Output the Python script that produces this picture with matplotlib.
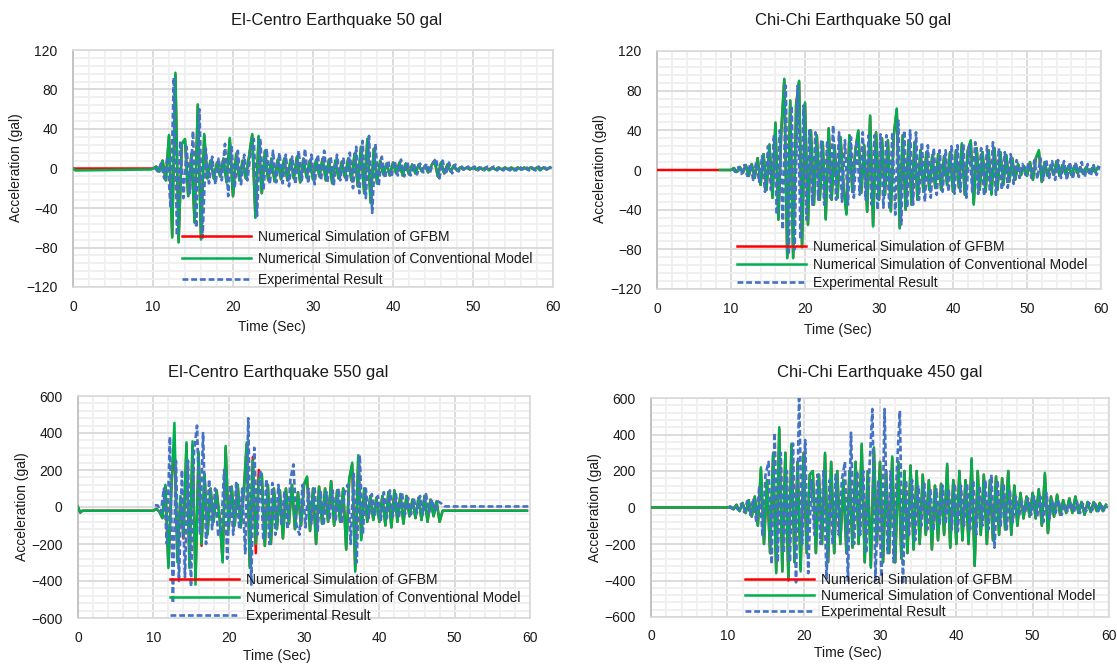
import numpy as np
import matplotlib
matplotlib.use('Agg')
import matplotlib.pyplot as plt
from matplotlib.ticker import MultipleLocator

FONT = 'Liberation Sans'

# ---------------- data (gal), sampled every 0.4 s ----------------
STEP = 0.4
SIM_T0 = 10.0   # numerical traces start of sampled part
EXP_T0 = 10.2   # experimental trace start of sampled part

titles = ["El-Centro Earthquake 50 gal", "Chi-Chi Earthquake 50 gal",
          "El-Centro Earthquake 550 gal", "Chi-Chi Earthquake 450 gal"]
legend_labels = ["Numerical Simulation of GFBM",
                 "Numerical Simulation of Conventional Model",
                 "Experimental Result"]
x_ticks = [0, 10, 20, 30, 40, 50, 60]
y_ticks_small = [-120, -80, -40, 0, 40, 80, 120]
y_ticks_large = [-600, -400, -200, 0, 200, 400, 600]

# --- El-Centro 50 gal ---
ec50_gfbm_pre_t = [0.0, 9.8]
ec50_gfbm_pre_v = [0.0, 0.0]
ec50_conv_pre_t = [0.0, 0.3, 9.8]
ec50_conv_pre_v = [0.0, -2.0, -1.0]
ec50_conv = [0, 2, -3, 8, -12, 34, -70, 97, -75, 25, 30, -28, 15, -55, 65, -72, 35, -10, 8, -10, 6, -8, 10, -14, 31,
             -28, 15, -12, 8, -10, 12, 35, -50, 33, -25, 18, -12, 10, -13, 9, -11, 10, -12, 9, -10, 12, -14, 10, -9, 8,
             -11, 9, -8, 10, -12, 9, -15, 8, -10, 7, -9, 10, -12, 15, -18, 22, -25, 30, -35, 20, -15, 8, -6, 5, -7,
             6, -5, 6, -7, 5, -6, 4, -5, 4, -3, 3, -4, 3, 8, -8, 6, -5, 4, -3, 3, -2, 1, -1, 1, -1,
             1, -1, 1, -1, 1, -2, 1, -1, 1, -1, 1, -1, 1, -2, 1, -1, 1, -1, 1, -1, 1, -2, 1, -1, 1]
ec50_gfbm = [0, 2, -3, 8, -12, 33, -69, 95, -74, 25, 29, -28, 15, -54, 64, -71, 34, -10, 8, -10, 6, -8, 10, -14, 30,
             -28, 15, -12, 8, -10, 12, 34, -49, 32, -25, 18, -12, 10, -13, 9, -11, 10, -12, 9, -10, 12, -14, 10, -9, 8,
             -11, 9, -8, 10, -12, 9, -15, 8, -10, 7, -9, 10, -12, 15, -18, 22, -25, 30, -34, 20, -15, 8, -6, 5, -7,
             6, -5, 6, -7, 5, -6, 4, -5, 4, -3, 3, -4, 3, 8, -8, 6, -5, 4, -3, 3, -2, 1, -1, 1, -1,
             1, -1, 1, -1, 1, -1, 1, -1, 1, -1, 1, -1, 1, -1, 1, -1, 1, -1, 1, -1, 1, -1, 1, -1, 1]
ec50_exp = [1, -3, 5, -10, 12, -40, 92, -68, 28, -30, 22, -25, 38, -60, 60, -70, 20, -15, 12, -16, 10, -12, 25, -28, 22,
            -20, 18, -16, 14, -12, 15, 30, -48, 30, -22, 20, -16, 18, -14, 16, -15, 14, -18, 12, -16, 18, -12, 20, -15, 14,
            -16, 14, -12, 18, -14, 12, -16, 14, -12, 10, -14, 16, -20, 22, -25, 28, -30, 33, -45, 25, -18, 12, -10, 8, -9,
            8, -7, 9, -8, 6, -7, 5, -6, 5, -4, 5, -5, 6, 10, -10, 8, -6, 6, -5, 4, -3, 2, -2, 2, -2,
            2, -2, 1, -2, 2, -1, 2, -2, 1, -2, 2, -2, 1, -2, 2, -1, 2, -2, 1, -2, 2, -2, 1, -2, 2]

# --- Chi-Chi 50 gal ---
cc50_gfbm_pre_t = [0.0, 9.8]
cc50_gfbm_pre_v = [0.0, 0.0]
cc50_conv_pre_t = [8.5, 9.8]
cc50_conv_pre_v = [0.0, 0.0]
cc50_conv = [0, 2, -2, 3, -3, 5, -6, 6, -8, 12, -15, 16, -20, 26, -28, 48, -50, 40, 92, -89, 70, -89, 66, 90, -78,
             68, -55, 40, -35, 35, -30, 28, -50, 42, -30, 25, -28, 33, -15, -45, 35, -22, 20, 40, -23, 25, -42, 55, -57, 38,
             -30, 32, -25, 30, -42, 35, 62, -59, 35, -40, 30, -35, 28, -30, 20, -22, 18, -20, 15, -18, 16, -20, 14, -15, 18,
             -22, 20, -18, 27, -25, 20, 30, -35, 22, -20, 18, -22, 20, -25, 22, -20, 18, -15, 15, -12, 12, -10, 6, -5, 4,
             -6, 8, -10, 12, 20, -12, 8, -6, 5, -5, 9, -6, 5, -4, 4, -5, 4, -3, 3, -4, 3, -3, 2, -2, 3]
cc50_gfbm = [0, 2, -2, 3, -3, 5, -6, 6, -8, 12, -15, 16, -20, 25, -28, 47, -50, 40, 91, -88, 70, -88, 66, 89, -77,
             67, -55, 40, -35, 35, -30, 28, -49, 42, -30, 25, -28, 33, -15, -44, 35, -22, 20, 39, -23, 25, -42, 54, -56, 38,
             -30, 32, -25, 30, -41, 35, 61, -58, 35, -40, 30, -35, 28, -30, 20, -22, 18, -20, 15, -18, 16, -20, 14, -15, 18,
             -22, 20, -18, 26, -25, 20, 29, -34, 22, -20, 18, -22, 20, -24, 22, -20, 18, -15, 15, -12, 12, -10, 6, -5, 4,
             -6, 8, -10, 12, 19, -12, 8, -6, 5, -5, 9, -6, 5, -4, 4, -5, 4, -3, 3, -4, 3, -3, 2, -2, 3]
cc50_exp = [1, -2, 3, -4, 5, -6, 6, -10, 8, -12, 14, -22, 24, -20, 35, -45, 40, -60, 85, -85, 65, -80, 85, -70, 65,
            -50, 40, -35, 38, -30, 30, -35, 30, -28, 45, -30, 38, -32, 30, -35, 33, -28, 30, -25, 38, -30, 35, -35, 35, -40,
            36, -38, 35, -40, 38, -45, 50, -55, 40, -38, 40, -35, 38, -30, 28, -32, 25, -28, 22, -25, 20, -22, 20, -22, 24,
            -24, 25, -22, 26, -28, 25, -22, 28, -24, 22, -26, 24, -22, 28, -25, 22, -20, 18, -18, 16, -14, 10, -8, 6, -5,
            7, -8, 10, -9, 12, -10, 10, -8, 9, -10, 10, -8, 9, -10, 8, -9, 8, -7, 8, -7, 6, -6, 5, -5, 4]

# --- El-Centro 550 gal ---
ec550_pre_t = [0.0, 0.3, 0.6, 9.8]
ec550_pre_v = [0.0, -30.0, -20.0, -20.0]
ec550_conv = [-20, -10, -25, -60, 120, -330, 100, 455, -300, 60, -150, 350, -330, 355, -420, 300, -200, 180, -150, 100, -80, 90, -60, -300, 330,
              -120, 110, -100, 120, -110, 80, 350, -330, 250, -200, 150, 180, -210, 120, -200, 100, -120, 90, -170, 100, -90, 120, -120, 80, -100,
              120, 165, -130, 100, -200, 110, -90, 100, -80, 140, -100, 90, -80, 100, -230, 150, 240, -350, 280, -180, 100, -80, 60, -70, 50,
              -80, 60, -100, 80, -110, 90, -80, 70, -90, 60, -50, 40, -60, 50, -70, 60, -80, 40, -50, 30, -80, -20, -20, -20, -20,
              -20, -20, -20, -20, -20, -20, -20, -20, -20, -20, -20, -20, -20, -20, -20, -20, -20, -20, -20, -20, -20, -20, -20, -20, -20]
ec550_gfbm = [-20, -10, -25, -60, 110, -320, 120, 350, -280, 50, -170, 340, -320, 330, -400, 290, -210, 170, -140, 100, -80, 90, -60, -290, 320,
              -120, 110, -100, 120, -110, 80, 340, -320, 270, -250, 200, 170, -210, 120, -200, 100, -120, 90, -170, 100, -90, 120, -120, 80, -100,
              120, 160, -130, 100, -200, 110, -90, 100, -80, 140, -100, 90, -80, 100, -230, 150, 230, -340, 270, -170, 100, -80, 60, -70, 50,
              -80, 60, -100, 80, -110, 90, -80, 70, -90, 60, -50, 40, -60, 50, -70, 60, -80, 40, -50, 30, -80, -20, -20, -20, -20,
              -20, -20, -20, -20, -20, -20, -20, -20, -20, -20, -20, -20, -20, -20, -20, -20, -20, -20, -20, -20, -20, -20, -20, -20, -20]
ec550_exp = [10, 8, -30, 100, -200, 380, -520, 250, -400, 200, -380, 250, -430, 300, 440, -150, 400, -200, 150, -120, 100, -150, -120, 200, -280,
             120, -150, 130, -120, 100, -250, 480, -420, 320, -150, 200, -180, 150, -200, 130, -150, 120, -100, 80, -120, 150, 230, -100, -150, 120,
             -110, 100, -90, 110, -130, 90, -100, 80, -70, 90, -80, 100, -90, 80, 120, -200, 180, -300, 280, -150, 100, -60, 70, -50, 60,
             -70, 80, -60, 90, -50, 70, -60, 80, -40, 50, -40, 40, -30, 60, -40, 70, -30, 40, -20, 30, 20, 5, 3, 3, 3,
             3, 3, 3, 3, 3, 3, 3, 3, 3, 3, 3, 3, 3, 3, 3, 3, 3, 3, 3, 3, 3, 3, 3, 3, 3]

# --- Chi-Chi 450 gal ---
cc450_pre_t = [0.0, 9.8]
cc450_pre_v = [0.0, 0.0]
cc450_conv = [0, 5, -10, 15, -20, 25, -30, 40, -50, 60, -100, 220, -200, 150, -250, 300, -360, 440, -350, 300, -390, 350, -300, 250, -350,
              300, -250, 180, 200, -250, 180, -200, 300, -300, 250, -250, 200, -200, 150, -250, 200, -220, 250, -200, 350, -300, 200, -330, 330, -200,
              250, -300, 200, -250, 280, -300, 250, -280, 200, -250, 230, -230, 200, -200, 180, -150, 150, -230, 120, -180, 130, -150, 240, -220, 150,
              -200, 200, -180, 150, -200, 270, -320, 200, -150, 180, -200, 150, -180, 170, -150, 160, -120, 200, -150, 120, -100, 80, -60, 60, -50,
              80, -60, 100, -100, 190, -140, 60, -50, 70, -40, 40, -30, 50, -30, 60, -30, 30, -40, 30, -25, 30, -20, 25, -20, 15]
cc450_gfbm = [0, 5, -10, 15, -20, 25, -30, 40, -50, 60, -100, 210, -200, 150, -250, 290, -350, 430, -350, 300, -400, 340, -300, 250, -340,
              300, -250, 180, 200, -250, 180, -200, 290, -300, 250, -250, 200, -200, 150, -250, 200, -220, 250, -200, 340, -300, 200, -320, 320, -200,
              250, -300, 200, -250, 270, -300, 250, -280, 200, -250, 230, -230, 200, -200, 180, -150, 150, -230, 120, -180, 130, -150, 230, -220, 150,
              -200, 200, -180, 150, -200, 260, -320, 200, -150, 180, -200, 150, -180, 170, -150, 160, -120, 200, -150, 120, -100, 80, -60, 60, -50,
              80, -60, 100, -100, 180, -140, 60, -50, 70, -40, 40, -30, 50, -30, 60, -30, 30, -40, 30, -25, 30, -20, 25, -20, 15]
cc450_exp = [2, -5, 8, -12, 20, -25, 35, -40, 50, -80, 120, -150, 180, 250, -310, 410, -300, 300, -250, 200, -300, 350, -410, 620, -200,
             370, -360, 150, -150, 180, -200, 200, -390, 150, -200, 180, -150, 150, 250, -400, 410, -200, 200, -150, 200, -250, 200, 540, -400, 150,
             -380, 540, -250, 200, -300, 200, 530, -420, 150, -150, 150, -180, 120, -100, 130, -120, 100, -130, 100, -100, 120, -90, 100, -120, 130,
             -130, 120, -100, 130, -120, 150, -150, 120, -100, 150, -120, 180, -220, 150, -100, 130, -120, 100, -80, 60, -50, 30, -30, 50, -40,
             60, -50, 60, -80, 80, -60, 40, -30, 40, -40, 20, -20, 30, -25, 30, -30, 20, -20, 25, -15, 20, -20, 15, -15, 10]

# ---------------- figure ----------------
W, H = 1117, 664
fig = plt.figure(figsize=(W / 100, H / 100), dpi=100)


def fx(x):
    return x / W


def fy(y):
    return 1 - y / H


def trace(pre_t, pre_v, t0, vals):
    t = np.concatenate([np.asarray(pre_t, float), t0 + STEP * np.arange(len(vals))])
    v = np.concatenate([np.asarray(pre_v, float), np.asarray(vals, float)])
    return t, v


RED, GREEN, BLUE = '#ff0000', '#00b050', '#4472c4'
TXT = '#1a1a1a'
FS_TICK, FS_LAB, FS_LEG, FS_TITLE = 10, 10, 10, 12

panels = [
    dict(box=(73, 553, 50, 287), yt=y_ticks_small, ymin=8,
         red=trace(ec50_gfbm_pre_t, ec50_gfbm_pre_v, SIM_T0, ec50_gfbm),
         green=trace(ec50_conv_pre_t, ec50_conv_pre_v, SIM_T0, ec50_conv),
         blue=trace([], [], EXP_T0, ec50_exp),
         title=(337, 20), ylab=(16, 168), xlab=(272, 327),
         leg=(182, 230), lsp=0.55),
    dict(box=(657, 1101, 51, 289), yt=y_ticks_small, ymin=8,
         red=trace(cc50_gfbm_pre_t, cc50_gfbm_pre_v, SIM_T0, cc50_gfbm),
         green=trace(cc50_conv_pre_t, cc50_conv_pre_v, SIM_T0, cc50_conv),
         blue=trace([], [], EXP_T0, cc50_exp),
         title=(853, 20), ylab=(600, 169), xlab=(838, 330),
         leg=(737, 240), lsp=0.30),
    dict(box=(78, 530, 396, 618), yt=y_ticks_large, ymin=40,
         red=trace(ec550_pre_t, ec550_pre_v, SIM_T0, ec550_gfbm),
         green=trace(ec550_pre_t, ec550_pre_v, SIM_T0, ec550_conv),
         blue=trace([], [], EXP_T0, ec550_exp),
         title=(278, 372), ylab=(22, 507), xlab=(277, 656),
         leg=(170, 573), lsp=0.28),
    dict(box=(651, 1109, 398, 617), yt=y_ticks_large, ymin=40,
         red=trace(cc450_pre_t, cc450_pre_v, SIM_T0, cc450_gfbm),
         green=trace(cc450_pre_t, cc450_pre_v, SIM_T0, cc450_conv),
         blue=trace([], [], EXP_T0, cc450_exp),
         title=(880, 373), ylab=(595, 508), xlab=(848, 653),
         leg=(745, 573), lsp=0.14),
]

for i, p in enumerate(panels):
    x0, x1, y0, y1 = p['box']
    ax = fig.add_axes([fx(x0), fy(y1), fx(x1) - fx(x0), fy(y0) - fy(y1)])
    ax.set_xlim(0, 60)
    yt = p['yt']
    ax.set_ylim(yt[0], yt[-1])
    ax.set_xticks(x_ticks)
    ax.set_yticks(yt)
    ax.xaxis.set_minor_locator(MultipleLocator(2))
    ax.yaxis.set_minor_locator(MultipleLocator(p['ymin']))
    ax.set_axisbelow(True)
    ax.grid(which='minor', color='#efefef', lw=1.3)
    ax.grid(which='major', color='#d9d9d9', lw=1.3)
    ax.tick_params(which='both', length=0)
    ax.tick_params(axis='y', pad=11, labelsize=FS_TICK, labelcolor=TXT)
    ax.tick_params(axis='x', pad=9, labelsize=FS_TICK, labelcolor=TXT)
    for lab in ax.get_xticklabels() + ax.get_yticklabels():
        lab.set_fontfamily(FONT)
    for s in ['top', 'right', 'bottom']:
        ax.spines[s].set_color('#d9d9d9')
        ax.spines[s].set_linewidth(1.2)
    ax.spines['left'].set_color('#bfbfbf')
    ax.spines['left'].set_linewidth(1.3)

    l1, = ax.plot(*p['red'], color=RED, lw=1.8, zorder=3, label=legend_labels[0])
    l2, = ax.plot(*p['green'], color=GREEN, lw=1.8, zorder=4, label=legend_labels[1])
    l3, = ax.plot(*p['blue'], color=BLUE, lw=1.9, ls=(0, (2.2, 1.1)), zorder=5,
                  label=legend_labels[2])

    lx, ly = p['leg']
    leg = ax.legend(handles=[l1, l2, l3], loc='upper left',
                    bbox_to_anchor=(fx(lx), fy(ly)), bbox_transform=fig.transFigure,
                    frameon=False, borderpad=0, borderaxespad=0,
                    handlelength=5.0, handletextpad=0.45,
                    labelspacing=p['lsp'],
                    prop=dict(family=FONT, size=FS_LEG))
    leg.set_zorder(10)
    for t in leg.get_texts():
        t.set_color(TXT)

    tx, ty = p['title']
    fig.text(fx(tx), fy(ty), titles[i], ha='center', va='center',
             fontsize=FS_TITLE, family=FONT, color=TXT)
    yx, yy = p['ylab']
    fig.text(fx(yx), fy(yy), 'Acceleration (gal)', ha='center', va='center',
             rotation=90, fontsize=FS_LAB, family=FONT, color=TXT)
    xx, xy = p['xlab']
    fig.text(fx(xx), fy(xy), 'Time (Sec)', ha='center', va='center',
             fontsize=FS_LAB, family=FONT, color=TXT)

fig.savefig('out.png', dpi=100)
